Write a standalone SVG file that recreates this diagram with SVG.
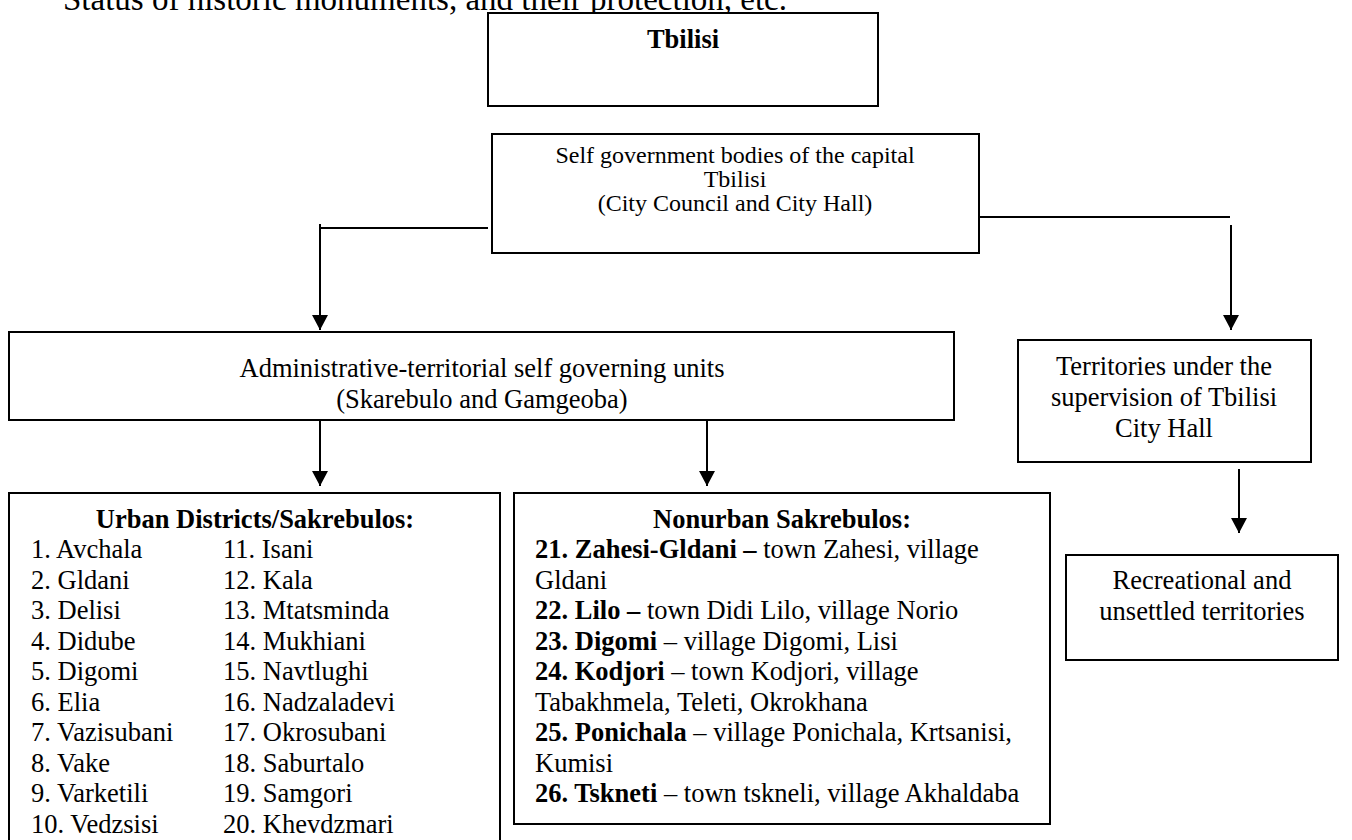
<svg xmlns="http://www.w3.org/2000/svg" width="1352" height="840" viewBox="0 0 1352 840">
<defs>
<marker id="arr" markerUnits="userSpaceOnUse" markerWidth="16" markerHeight="16" refX="15" refY="8" orient="auto">
<path d="M0,0 L15,8 L0,16 Z" fill="#000"/>
</marker>
<style>
.box{fill:#fff;stroke:#000;stroke-width:2}
.ln{fill:none;stroke:#000;stroke-width:2}
text{font-family:"Liberation Serif","Times New Roman",serif;fill:#000;font-size:26.5px}
.c{text-anchor:middle}
.b{font-weight:bold}
.s{font-size:24px}
</style>
</defs>
<rect width="1352" height="840" fill="#fff"/>
<text x="63" y="10" style="font-size:33px">Status of historic monuments, and their protection, etc.</text>

<g id="connectors">
<path class="ln" d="M488,228 H320"/>
<path class="ln" d="M320,224 V330" marker-end="url(#arr)"/>
<path class="ln" d="M979,217 H1230"/>
<path class="ln" d="M1231,225 V330" marker-end="url(#arr)"/>
<path class="ln" d="M320,421 V486" marker-end="url(#arr)"/>
<path class="ln" d="M707,421 V486" marker-end="url(#arr)"/>
<path class="ln" d="M1239,469 V533" marker-end="url(#arr)"/>
</g>

<g id="n-tbilisi">
<rect class="box" x="488" y="13" width="390" height="93"/>
<text class="c b" x="683" y="48">Tbilisi</text>
</g>

<g id="n-selfgov">
<rect class="box" x="492" y="134" width="487" height="119"/>
<text class="c s" x="735" y="163">Self government bodies of the capital</text>
<text class="c s" x="735" y="187">Tbilisi</text>
<text class="c s" x="735" y="211">(City Council and City Hall)</text>
</g>

<g id="n-admin">
<rect class="box" x="9" y="332" width="945" height="88"/>
<text class="c" x="482" y="377">Administrative-territorial self governing units</text>
<text class="c" x="482" y="408">(Skarebulo and Gamgeoba)</text>
</g>

<g id="n-territories">
<rect class="box" x="1018" y="340" width="293" height="122"/>
<text class="c" x="1164" y="375">Territories under the</text>
<text class="c" x="1164" y="406">supervision of Tbilisi</text>
<text class="c" x="1164" y="437">City Hall</text>
</g>

<g id="n-recreational">
<rect class="box" x="1066" y="555" width="272" height="105"/>
<text class="c" x="1202" y="589">Recreational and</text>
<text class="c" x="1202" y="620">unsettled territories</text>
</g>

<g id="n-urban">
<rect class="box" x="9" y="493" width="491" height="360"/>
<text class="c b" x="255" y="528">Urban Districts/Sakrebulos:</text>
<text x="31" y="558">1. Avchala</text>
<text x="31" y="588.5">2. Gldani</text>
<text x="31" y="619.1">3. Delisi</text>
<text x="31" y="649.6">4. Didube</text>
<text x="31" y="680.2">5. Digomi</text>
<text x="31" y="710.8">6. Elia</text>
<text x="31" y="741.3">7. Vazisubani</text>
<text x="31" y="771.9">8. Vake</text>
<text x="31" y="802.4">9. Varketili</text>
<text x="31" y="833">10. Vedzsisi</text>
<text x="223" y="558">11. Isani</text>
<text x="223" y="588.5">12. Kala</text>
<text x="223" y="619.1">13. Mtatsminda</text>
<text x="223" y="649.6">14. Mukhiani</text>
<text x="223" y="680.2">15. Navtlughi</text>
<text x="223" y="710.8">16. Nadzaladevi</text>
<text x="223" y="741.3">17. Okrosubani</text>
<text x="223" y="771.9">18. Saburtalo</text>
<text x="223" y="802.4">19. Samgori</text>
<text x="223" y="833">20. Khevdzmari</text>
</g>

<g id="n-nonurban">
<rect class="box" x="514" y="493" width="536" height="331"/>
<text class="c b" x="782" y="528">Nonurban Sakrebulos:</text>
<text x="535" y="558"><tspan class="b">21. Zahesi-Gldani –</tspan> town Zahesi, village</text>
<text x="535" y="588.5">Gldani</text>
<text x="535" y="619.1"><tspan class="b">22. Lilo –</tspan> town Didi Lilo, village Norio</text>
<text x="535" y="649.6"><tspan class="b">23. Digomi</tspan> – village Digomi, Lisi</text>
<text x="535" y="680.2"><tspan class="b">24. Kodjori</tspan> – town Kodjori, village</text>
<text x="535" y="710.8">Tabakhmela, Teleti, Okrokhana</text>
<text x="535" y="741.3"><tspan class="b">25. Ponichala</tspan> – village Ponichala, Krtsanisi,</text>
<text x="535" y="771.9">Kumisi</text>
<text x="535" y="802.4"><tspan class="b">26. Tskneti</tspan> – town tskneli, village Akhaldaba</text>
</g>
</svg>
